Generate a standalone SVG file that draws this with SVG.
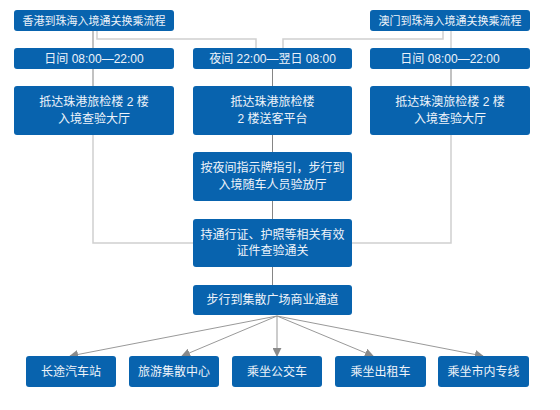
<svg xmlns="http://www.w3.org/2000/svg" width="560" height="410" viewBox="0 0 560 410">
<style>
.b{fill:#0863ae;}
.t{fill:#eef3fa;font-family:"Liberation Sans","Noto Sans CJK SC",sans-serif;font-size:12px;text-anchor:middle;}
.s{font-size:11px;}
.lt{fill:none;stroke:#d0d0d0;stroke-width:1.5;}
.dk{fill:none;stroke:#858585;stroke-width:1;}
.ar{fill:none;stroke:#999;stroke-width:1;marker-end:url(#ah);}
</style>
<defs>
<marker id="ah" viewBox="0 0 10 10" refX="9" refY="5" markerWidth="9" markerHeight="9" markerUnits="userSpaceOnUse" orient="auto">
<path d="M0,0 L10,5 L0,10 z" fill="#8a8a8a"/>
</marker>
</defs>
<rect width="560" height="410" fill="#fff"/>
<g id="connectors">
<path class="lt" d="M97,31 V39 H256 V48"/>
<path class="lt" d="M443,31 V39 H283 V48"/>
<path class="lt" d="M451,31 V48"/>
<path class="dk" d="M93,31 V48"/>
<path class="dk" d="M93,69 V86"/>
<path class="dk" d="M451,69 V86"/>
<path class="dk" d="M272.5,69 V285"/>
<path class="lt" d="M93,135 V243 H193"/>
<path class="lt" d="M451,135 V243 H352"/>
<path class="ar" d="M277,316 L70,356"/>
<path class="ar" d="M277,316 L182,356"/>
<path class="ar" d="M277,316 L277,356"/>
<path class="ar" d="M277,316 L373,356"/>
<path class="ar" d="M277,316 L483,356"/>
</g>
<g id="hk-title"><rect class="b" x="14" y="10" width="160" height="21" rx="3"/><text class="t s" x="94" y="25">香港到珠海入境通关换乘流程</text></g>
<g id="mo-title"><rect class="b" x="370" y="10" width="160" height="21" rx="3"/><text class="t s" x="450" y="25">澳门到珠海入境通关换乘流程</text></g>
<g id="day-left"><rect class="b" x="14" y="48" width="160" height="21" rx="3"/><text class="t" x="94" y="63">日间 08:00—22:00</text></g>
<g id="night"><rect class="b" x="193" y="48" width="159" height="21" rx="3"/><text class="t" x="272.5" y="63">夜间 22:00—翌日 08:00</text></g>
<g id="day-right"><rect class="b" x="370" y="48" width="160" height="21" rx="3"/><text class="t" x="450" y="63">日间 08:00—22:00</text></g>
<g id="hk-hall"><rect class="b" x="14" y="86" width="160" height="49" rx="3"/><text class="t" x="94" y="106">抵达珠港旅检楼 2 楼</text><text class="t" x="94" y="123">入境查验大厅</text></g>
<g id="hk-platform"><rect class="b" x="193" y="86" width="159" height="49" rx="3"/><text class="t" x="272.5" y="106">抵达珠港旅检楼</text><text class="t" x="272.5" y="123">2 楼送客平台</text></g>
<g id="mo-hall"><rect class="b" x="370" y="86" width="160" height="49" rx="3"/><text class="t" x="450" y="106">抵达珠澳旅检楼 2 楼</text><text class="t" x="450" y="123">入境查验大厅</text></g>
<g id="night-walk"><rect class="b" x="193" y="152" width="159" height="49" rx="3"/><text class="t" x="272.5" y="172">按夜间指示牌指引，步行到</text><text class="t" x="272.5" y="189">入境随车人员验放厅</text></g>
<g id="check"><rect class="b" x="193" y="219" width="159" height="48" rx="3"/><text class="t" x="272.5" y="239">持通行证、护照等相关有效</text><text class="t" x="272.5" y="255">证件查验通关</text></g>
<g id="plaza"><rect class="b" x="193" y="285" width="159" height="30" rx="3"/><text class="t" x="272.5" y="304">步行到集散广场商业通道</text></g>
<g id="coach"><rect class="b" x="26" y="356" width="90" height="31" rx="3"/><text class="t" x="71" y="376">长途汽车站</text></g>
<g id="tour"><rect class="b" x="129" y="356" width="90" height="31" rx="3"/><text class="t" x="174" y="376">旅游集散中心</text></g>
<g id="bus"><rect class="b" x="232" y="356" width="90" height="31" rx="3"/><text class="t" x="277" y="376">乘坐公交车</text></g>
<g id="taxi"><rect class="b" x="335" y="356" width="91" height="31" rx="3"/><text class="t" x="380.5" y="376">乘坐出租车</text></g>
<g id="city"><rect class="b" x="438" y="356" width="91" height="31" rx="3"/><text class="t" x="483.5" y="376">乘坐市内专线</text></g>
</svg>
